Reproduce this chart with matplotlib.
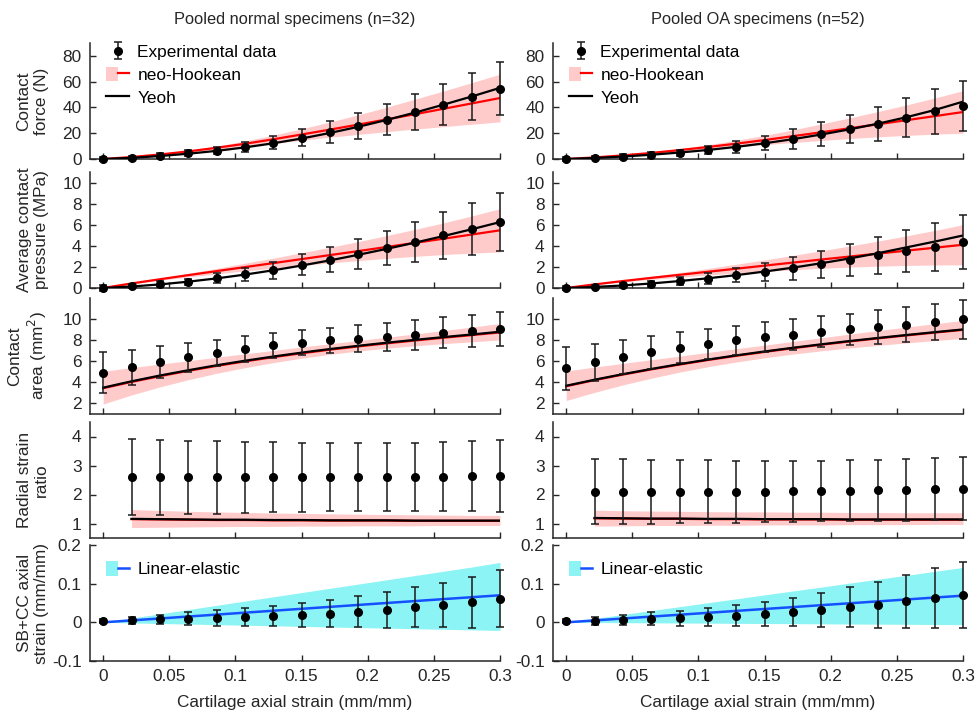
"""
Pooled normal vs OA specimens: experimental data with neo-Hookean / Yeoh /
linear-elastic model predictions against cartilage axial strain.
"""

import matplotlib.pyplot as plt
from matplotlib.patches import Patch
from matplotlib.lines import Line2D
from matplotlib.legend_handler import HandlerTuple
from matplotlib.ticker import FuncFormatter

plt.rcParams['font.family'] = ['Liberation Sans', 'DejaVu Sans']
plt.rcParams['font.size'] = 12.4

# ---- data -------------------------------------------------------------
strain = [0, 0.0214, 0.0429, 0.0643, 0.0857, 0.1071, 0.1286, 0.15,
          0.1714, 0.1929, 0.2143, 0.2357, 0.2571, 0.2786, 0.3]
strain_ratio = strain[1:]          # radial strain ratio has no point at 0

titles = ["Pooled normal specimens (n=32)", "Pooled OA specimens (n=52)"]
row_labels = ["Contact\nforce (N)", "Average contact\npressure (MPa)",
              "Contact\narea (mm$^2$)", "Radial strain\nratio",
              "SB+CC axial\nstrain (mm/mm)"]
xtick_vals = [0, 0.05, 0.1, 0.15, 0.2, 0.25, 0.3]

# contact force (N)
force_n = [0, 1.0, 2.6, 4.4, 6.5, 9.3, 12.7, 16.3, 21.2, 25.6, 30.6, 36.3, 42.2, 48.4, 54.4]
force_n_err = [1.5, 1.5, 2.2, 2.3, 2.7, 3.9, 5.0, 6.6, 8.4, 9.8, 11.9, 13.9, 16.2, 18.4, 20.5]
force_n_nh = [0, 1.5, 3.5, 5.9, 8.7, 11.8, 15.3, 19.0, 22.8, 26.7, 30.7, 34.8, 38.9, 43.1, 47.3]
force_n_nh_hi = [0, 1.6, 3.8, 6.6, 10.0, 14.0, 18.5, 23.4, 28.7, 34.3, 40.2, 46.4, 52.7, 59.2, 65.8]
force_n_nh_lo = [0, 1.4, 3.2, 5.2, 7.4, 9.6, 12.1, 14.6, 16.9, 19.1, 21.2, 23.2, 25.1, 27.0, 28.8]
force_n_yeoh = [0, 0.9, 2.3, 4.1, 6.3, 9.0, 12.2, 15.9, 20.2, 25.0, 30.3, 36.0, 42.1, 48.5, 55.2]

force_oa = [0, 1.0, 1.8, 3.1, 4.9, 7.0, 9.3, 12.4, 15.7, 19.4, 23.2, 27.1, 32.0, 36.9, 41.3]
force_oa_err = [1.5, 1.2, 1.8, 2.2, 2.3, 3.4, 4.3, 5.8, 7.6, 9.0, 10.8, 13.0, 15.1, 17.3, 19.4]
force_oa_nh = [0, 1.2, 2.8, 4.7, 6.9, 9.3, 11.9, 14.7, 17.7, 20.75, 23.85, 26.95, 30.1, 33.25, 36.45]
force_oa_nh_hi = [0, 1.3, 3.1, 5.3, 8.0, 11.1, 14.5, 18.3, 22.6, 27.2, 31.9, 36.8, 41.9, 47.3, 53.0]
force_oa_nh_lo = [0, 1.1, 2.5, 4.1, 5.8, 7.5, 9.3, 11.1, 12.8, 14.4, 15.9, 17.2, 18.3, 19.3, 20.0]
force_oa_yeoh = [0, 0.8, 1.9, 3.3, 5.0, 7.0, 9.4, 12.2, 15.4, 19.0, 23.0, 27.4, 32.4, 38.0, 44.5]

# average contact pressure (MPa)
press_n = [0, 0.19, 0.35, 0.58, 0.93, 1.29, 1.67, 2.19, 2.67, 3.2, 3.8, 4.37, 5.0, 5.6, 6.25]
press_n_err = [0.3, 0.15, 0.27, 0.3, 0.48, 0.63, 0.79, 1.0, 1.19, 1.41, 1.64, 1.93, 2.22, 2.49, 2.77]
press_n_nh = [0, 0.43, 0.83, 1.22, 1.6, 1.98, 2.36, 2.74, 3.12, 3.5, 3.89, 4.28, 4.67, 5.07, 5.47]
press_n_nh_hi = [0, 0.47, 0.93, 1.39, 1.86, 2.34, 2.83, 3.34, 3.86, 4.4, 4.97, 5.56, 6.17, 6.83, 7.52]
press_n_nh_lo = [0, 0.39, 0.73, 1.05, 1.34, 1.62, 1.89, 2.14, 2.38, 2.6, 2.81, 3.0, 3.17, 3.31, 3.42]
press_n_yeoh = [0, 0.14, 0.34, 0.6, 0.91, 1.27, 1.68, 2.13, 2.62, 3.15, 3.71, 4.3, 4.92, 5.57, 6.25]

press_oa = [0, 0.13, 0.26, 0.39, 0.64, 0.9, 1.19, 1.54, 1.86, 2.25, 2.64, 3.09, 3.5, 3.89, 4.34]
press_oa_err = [0.2, 0.15, 0.2, 0.29, 0.39, 0.51, 0.66, 0.85, 1.06, 1.27, 1.51, 1.77, 1.99, 2.3, 2.54]
press_oa_nh = [0, 0.34, 0.66, 0.96, 1.25, 1.54, 1.83, 2.12, 2.41, 2.70, 2.98, 3.26, 3.54, 3.82, 4.1]
press_oa_nh_hi = [0, 0.37, 0.74, 1.1, 1.47, 1.85, 2.25, 2.66, 3.09, 3.53, 3.98, 4.45, 4.94, 5.46, 6.0]
press_oa_nh_lo = [0, 0.31, 0.58, 0.82, 1.03, 1.23, 1.41, 1.58, 1.73, 1.87, 1.98, 2.07, 2.14, 2.18, 2.2]
press_oa_yeoh = [0, 0.1, 0.24, 0.43, 0.66, 0.92, 1.22, 1.56, 1.93, 2.35, 2.8, 3.3, 3.85, 4.4, 4.98]

# contact area (mm^2)
area_n = [4.91, 5.42, 5.92, 6.37, 6.78, 7.16, 7.51, 7.76, 7.98, 8.14, 8.33, 8.49, 8.71, 8.87, 9.06]
area_n_err = [1.93, 1.68, 1.52, 1.38, 1.25, 1.2, 1.19, 1.2, 1.19, 1.28, 1.31, 1.41, 1.49, 1.55, 1.64]
area_n_nh = [3.45, 4.04, 4.59, 5.09, 5.56, 5.99, 6.39, 6.76, 7.1, 7.41, 7.7, 7.97, 8.23, 8.48, 8.74]
area_n_nh_hi = [5.05, 5.4, 5.73, 6.05, 6.38, 6.71, 7.03, 7.35, 7.66, 7.97, 8.28, 8.59, 8.91, 9.24, 9.58]
area_n_nh_lo = [1.95, 2.8, 3.57, 4.25, 4.86, 5.39, 5.87, 6.29, 6.66, 6.97, 7.24, 7.47, 7.67, 7.84, 8.02]
area_n_yeoh = [3.5, 4.1, 4.65, 5.15, 5.62, 6.05, 6.45, 6.82, 7.16, 7.47, 7.76, 8.03, 8.29, 8.54, 8.8]

area_oa = [5.32, 5.89, 6.4, 6.84, 7.28, 7.63, 7.98, 8.27, 8.52, 8.8, 9.03, 9.25, 9.47, 9.72, 9.97]
area_oa_err = [2.04, 1.77, 1.6, 1.55, 1.46, 1.42, 1.41, 1.41, 1.46, 1.46, 1.5, 1.57, 1.66, 1.74, 1.82]
area_oa_nh = [3.64, 4.21, 4.74, 5.23, 5.69, 6.12, 6.52, 6.89, 7.24, 7.57, 7.88, 8.17, 8.45, 8.72, 8.98]
area_oa_nh_hi = [5.08, 5.45, 5.8, 6.15, 6.49, 6.84, 7.19, 7.53, 7.88, 8.23, 8.58, 8.91, 9.24, 9.56, 9.87]
area_oa_nh_lo = [2.28, 3.05, 3.76, 4.39, 4.97, 5.48, 5.93, 6.33, 6.68, 6.99, 7.26, 7.51, 7.74, 7.96, 8.17]
area_oa_yeoh = [3.68, 4.25, 4.78, 5.27, 5.73, 6.16, 6.56, 6.93, 7.28, 7.61, 7.92, 8.21, 8.49, 8.76, 9.02]

# radial strain ratio (from the second strain step on)
ratio_n = [2.59, 2.59, 2.59, 2.59, 2.59, 2.59, 2.59, 2.6, 2.6, 2.6, 2.61, 2.62, 2.63, 2.64]
ratio_n_err = [1.31, 1.29, 1.27, 1.25, 1.23, 1.21, 1.19, 1.18, 1.18, 1.18, 1.18, 1.19, 1.2, 1.25]
ratio_n_nh = [1.15, 1.14, 1.13, 1.12, 1.12, 1.11, 1.11, 1.1, 1.1, 1.1, 1.09, 1.09, 1.09, 1.09]
ratio_n_nh_hi = [1.48, 1.45, 1.42, 1.4, 1.38, 1.36, 1.35, 1.33, 1.32, 1.31, 1.3, 1.29, 1.28, 1.28]
ratio_n_nh_lo = [0.86, 0.87, 0.88, 0.89, 0.9, 0.9, 0.91, 0.91, 0.92, 0.92, 0.92, 0.93, 0.93, 0.93]
ratio_n_yeoh = [1.16, 1.15, 1.14, 1.13, 1.13, 1.12, 1.12, 1.11, 1.11, 1.11, 1.1, 1.1, 1.1, 1.1]

ratio_oa = [2.1, 2.1, 2.1, 2.1, 2.1, 2.1, 2.1, 2.11, 2.12, 2.13, 2.15, 2.16, 2.18, 2.2]
ratio_oa_err = [1.12, 1.11, 1.1, 1.09, 1.08, 1.07, 1.06, 1.06, 1.05, 1.05, 1.05, 1.06, 1.07, 1.08]
ratio_oa_nh = [1.18, 1.17, 1.16, 1.16, 1.15, 1.15, 1.14, 1.14, 1.14, 1.13, 1.13, 1.13, 1.13, 1.13]
ratio_oa_nh_hi = [1.46, 1.44, 1.43, 1.42, 1.41, 1.4, 1.4, 1.39, 1.39, 1.38, 1.38, 1.37, 1.37, 1.37]
ratio_oa_nh_lo = [0.91, 0.92, 0.93, 0.93, 0.94, 0.94, 0.95, 0.95, 0.95, 0.96, 0.96, 0.96, 0.97, 0.97]
ratio_oa_yeoh = [1.19, 1.18, 1.17, 1.17, 1.16, 1.16, 1.15, 1.15, 1.15, 1.14, 1.14, 1.14, 1.14, 1.14]

# SB+CC axial strain (mm/mm)
sbcc_n = [0.0035, 0.005, 0.008, 0.0095, 0.011, 0.014, 0.0165, 0.019, 0.0225, 0.028, 0.032, 0.039, 0.045, 0.052, 0.061]
sbcc_n_err = [0.006, 0.0087, 0.012, 0.017, 0.02, 0.023, 0.025, 0.03, 0.035, 0.04, 0.046, 0.052, 0.058, 0.066, 0.074]
sbcc_n_le = [0, 0.005, 0.01, 0.015, 0.02, 0.025, 0.03, 0.035, 0.04, 0.045, 0.05, 0.055, 0.06, 0.065, 0.07]
sbcc_n_le_hi = [0, 0.011, 0.022, 0.033, 0.044, 0.055, 0.066, 0.077, 0.088, 0.099, 0.11, 0.121, 0.132, 0.143, 0.155]
sbcc_n_le_lo = [0, -0.0015, -0.003, -0.0045, -0.006, -0.0075, -0.009, -0.0105, -0.012, -0.0135, -0.015, -0.0165, -0.018, -0.0195, -0.021]

sbcc_oa = [0.003, 0.004, 0.007, 0.009, 0.0105, 0.014, 0.017, 0.021, 0.026, 0.031, 0.039, 0.045, 0.054, 0.063, 0.071]
sbcc_oa_err = [0.006, 0.01, 0.013, 0.017, 0.02, 0.023, 0.027, 0.031, 0.036, 0.044, 0.052, 0.06, 0.069, 0.078, 0.086]
sbcc_oa_le = [0, 0.0049, 0.0099, 0.0148, 0.0197, 0.0246, 0.0296, 0.0345, 0.0394, 0.0444, 0.0493, 0.0542, 0.0591, 0.0641, 0.069]
sbcc_oa_le_hi = [0, 0.0101, 0.0203, 0.0304, 0.0405, 0.0507, 0.0608, 0.071, 0.0811, 0.0912, 0.1014, 0.1115, 0.1216, 0.1318, 0.142]
sbcc_oa_le_lo = [0, -0.0004, -0.0009, -0.0013, -0.0017, -0.0021, -0.0026, -0.003, -0.0034, -0.0039, -0.0043, -0.0047, -0.0051, -0.0056, -0.006]

# ---- styling ----------------------------------------------------------
PINK = '#ffcaca'
CYAN = '#8cf4f4'
BLUE = '#1450ff'
AXC = '#262626'

ylims = [(0, 90), (0, 11), (1, 12), (0.5, 4.5), (-0.1, 0.2)]
yticks = [[0, 20, 40, 60, 80], [0, 2, 4, 6, 8, 10], [2, 4, 6, 8, 10],
          [1, 2, 3, 4], [-0.1, 0, 0.1, 0.2]]

# axes boxes in pixels (left, top, right, bottom) on a 978x723 canvas
col_px = [(90, 500), (553, 963)]
row_px = [(43, 159), (172, 288), (298, 414), (422, 538), (545, 661)]
W, H = 978, 723


def plot_points(ax, x, y, err):
    eb = ax.errorbar(x, y, yerr=err, fmt='o', color='black', ecolor='#1a1a1a',
                     ms=5.5, capsize=3, elinewidth=1.1, capthick=1.1, zorder=5)
    eb[0].set_clip_on(False)
    for art in list(eb[1]) + list(eb[2]):
        art.set_clip_on(False)
    return eb


def plot_fit(ax, x, y, err, xm, nh, nh_lo, nh_hi, yeoh):
    ax.fill_between(xm, nh_lo, nh_hi, color=PINK, lw=0, zorder=1)
    ax.plot(xm, nh, color='red', lw=1.6, zorder=2)
    ax.plot(xm, yeoh, color='black', lw=1.6, zorder=3)
    return plot_points(ax, x, y, err)


def plot_linear(ax, x, y, err, le, le_lo, le_hi):
    ax.fill_between(x, le_lo, le_hi, color=CYAN, lw=0, zorder=1)
    ax.plot(x, le, color=BLUE, lw=1.8, zorder=2)
    return plot_points(ax, x, y, err)


fig = plt.figure(figsize=(9.78, 7.23), dpi=100)
axes = [[None, None] for _ in range(5)]
for r, (top, bot) in enumerate(row_px):
    for c, (left, right) in enumerate(col_px):
        ax = fig.add_axes([left / W, 1 - bot / H, (right - left) / W, (bot - top) / H])
        ax.set_xlim(-0.01, 0.3)
        ax.set_ylim(*ylims[r])
        ax.set_xticks(xtick_vals)
        ax.set_yticks(yticks[r])
        fmt = FuncFormatter(lambda v, p: f"{v:g}")
        ax.xaxis.set_major_formatter(fmt)
        ax.yaxis.set_major_formatter(fmt)
        ax.spines[['top', 'right']].set_visible(False)
        for s in ('left', 'bottom'):
            ax.spines[s].set_linewidth(1.1)
            ax.spines[s].set_color(AXC)
        ax.tick_params(direction='in', length=4, width=1.0, colors=AXC, pad=6)
        if r < 4:
            ax.tick_params(labelbottom=False)
        else:
            ax.set_xlabel("Cartilage axial strain (mm/mm)", color=AXC, labelpad=8)
        if c == 0:
            ax.set_ylabel(row_labels[r], color=AXC)
            ax.yaxis.set_label_coords(-0.1, 0.5)
        axes[r][c] = ax

axes[0][0].set_title(titles[0], fontsize=11.8, pad=13.5, color=AXC)
axes[0][1].set_title(titles[1], fontsize=11.8, pad=13.5, color=AXC)

fits = [
    [(force_n, force_n_err, force_n_nh, force_n_nh_lo, force_n_nh_hi, force_n_yeoh),
     (force_oa, force_oa_err, force_oa_nh, force_oa_nh_lo, force_oa_nh_hi, force_oa_yeoh)],
    [(press_n, press_n_err, press_n_nh, press_n_nh_lo, press_n_nh_hi, press_n_yeoh),
     (press_oa, press_oa_err, press_oa_nh, press_oa_nh_lo, press_oa_nh_hi, press_oa_yeoh)],
    [(area_n, area_n_err, area_n_nh, area_n_nh_lo, area_n_nh_hi, area_n_yeoh),
     (area_oa, area_oa_err, area_oa_nh, area_oa_nh_lo, area_oa_nh_hi, area_oa_yeoh)],
    [(ratio_n, ratio_n_err, ratio_n_nh, ratio_n_nh_lo, ratio_n_nh_hi, ratio_n_yeoh),
     (ratio_oa, ratio_oa_err, ratio_oa_nh, ratio_oa_nh_lo, ratio_oa_nh_hi, ratio_oa_yeoh)],
]

for r, row in enumerate(fits):
    xs = strain_ratio if r == 3 else strain
    for c, (y, err, nh, lo, hi, yeoh) in enumerate(row):
        eb = plot_fit(axes[r][c], xs, y, err, xs, nh, lo, hi, yeoh)
        if r == 0:
            nh_handle = (Patch(fc=PINK, ec='none'), Line2D([], [], color='red', lw=1.6))
            yeoh_handle = Line2D([], [], color='black', lw=1.6)
            axes[r][c].legend([eb, nh_handle, yeoh_handle],
                              ["Experimental data", "neo-Hookean", "Yeoh"],
                              loc='upper left', bbox_to_anchor=(0.04, 0.99),
                              frameon=False, handlelength=1.3, handletextpad=0.5,
                              handleheight=0.9, labelspacing=0.38, borderpad=0,
                              borderaxespad=0,
                              handler_map={tuple: HandlerTuple(ndivide=None)})

lin = [(sbcc_n, sbcc_n_err, sbcc_n_le, sbcc_n_le_lo, sbcc_n_le_hi),
       (sbcc_oa, sbcc_oa_err, sbcc_oa_le, sbcc_oa_le_lo, sbcc_oa_le_hi)]
for c, (y, err, le, lo, hi) in enumerate(lin):
    ax = axes[4][c]
    plot_linear(ax, strain, y, err, le, lo, hi)
    le_handle = (Patch(fc=CYAN, ec='none'), Line2D([], [], color=BLUE, lw=1.8))
    ax.legend([le_handle], ["Linear-elastic"], loc='upper left',
              bbox_to_anchor=(0.04, 0.86), frameon=False, handlelength=1.3,
              handletextpad=0.5, handleheight=0.9, borderpad=0, borderaxespad=0,
              handler_map={tuple: HandlerTuple(ndivide=None)})

fig.savefig("out.png", dpi=100)
